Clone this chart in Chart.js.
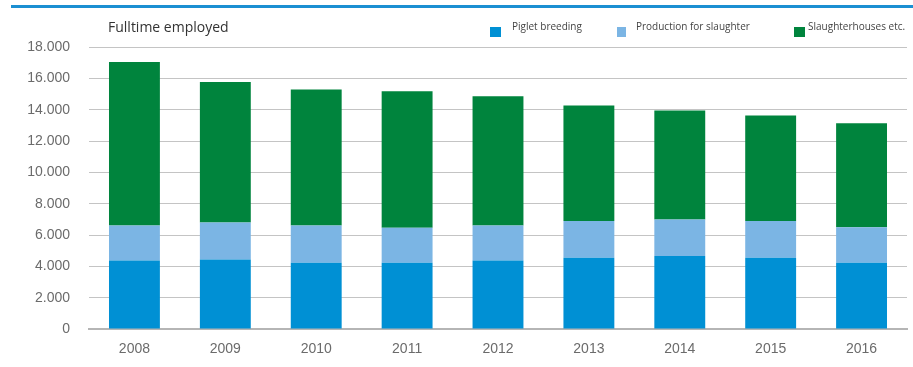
<!DOCTYPE html>
<html>
<head>
<meta charset="utf-8">
<script src="https://cdn.jsdelivr.net/npm/chart.js@4"></script>
<style>
  html, body { margin: 0; padding: 0; background: #fff; }
  #wrap { position: relative; width: 913px; height: 367px; overflow: hidden; }
  #topline { position: absolute; left: 11px; top: 5px; width: 902px; height: 3px; background: #1b8fd2; }
  #title { position: absolute; left: 108px; top: 17px; font: 14px 'Open Sans', sans-serif; color: #333; }
  .lg { position: absolute; font: 10px 'Open Sans', sans-serif; color: #444; top: 19px; }
  .sw { position: absolute; top: 27px; width: 11px; height: 10px; }
  canvas { position: absolute; left: 0; top: 0; }
</style>
</head>
<body>
<div id="wrap">
  <canvas id="chart" width="913" height="367"></canvas>
  <div id="topline"></div>
  <div id="title">Fulltime employed</div>
  <div class="sw" style="left:490px;background:#0090d4"></div>
  <div class="lg" style="left:512px">Piglet breeding</div>
  <div class="sw" style="left:617px;width:9px;background:#7bb5e4"></div>
  <div class="lg" style="left:636px">Production for slaughter</div>
  <div class="sw" style="left:794px;background:#00843d"></div>
  <div class="lg" style="left:808px">Slaughterhouses etc.</div>
</div>
<script>
// data
const years = ['2008', '2009', '2010', '2011', '2012', '2013', '2014', '2015', '2016'];
const piglet = [4380, 4440, 4230, 4230, 4380, 4550, 4660, 4550, 4230];
const production = [2220, 2360, 2370, 2240, 2220, 2350, 2330, 2350, 2260];
const slaughter = [10450, 8970, 8680, 8700, 8250, 7370, 6960, 6730, 6650];

const tickFont = { family: "'Liberation Sans', Arial, sans-serif", size: 14 };

function fmt(v) {
  return String(v).replace(/\B(?=(\d{3})+(?!\d))/g, '.');
}

const ctx = document.getElementById('chart').getContext('2d');
new Chart(ctx, {
  type: 'bar',
  data: {
    labels: years,
    datasets: [
      { label: 'Piglet breeding', data: piglet, backgroundColor: '#0090d4' },
      { label: 'Production for slaughter', data: production, backgroundColor: '#7bb5e4' },
      { label: 'Slaughterhouses etc.', data: slaughter, backgroundColor: '#00843d' }
    ]
  },
  options: {
    responsive: false,
    animation: false,
    layout: { padding: { top: 47, right: 6, left: 0, bottom: 0 } },
    datasets: { bar: { categoryPercentage: 1, barPercentage: 0.56, borderWidth: 0 } },
    plugins: { legend: { display: false }, tooltip: { enabled: false } },
    scales: {
      x: {
        stacked: true,
        grid: { display: false, drawTicks: false },
        border: { display: true, color: '#b5b5b5', width: 2 },
        ticks: { color: '#6b6b6b', font: tickFont, padding: 12 },
        afterFit: s => { s.height = 38; }
      },
      y: {
        stacked: true,
        min: 0,
        max: 18000,
        grid: { color: '#c4c4c4', drawTicks: false },
        border: { display: false },
        ticks: { stepSize: 2000, color: '#6b6b6b', font: tickFont, padding: 19, callback: v => fmt(v) },
        afterFit: s => { s.width = 89; }
      }
    }
  }
});
</script>
</body>
</html>
